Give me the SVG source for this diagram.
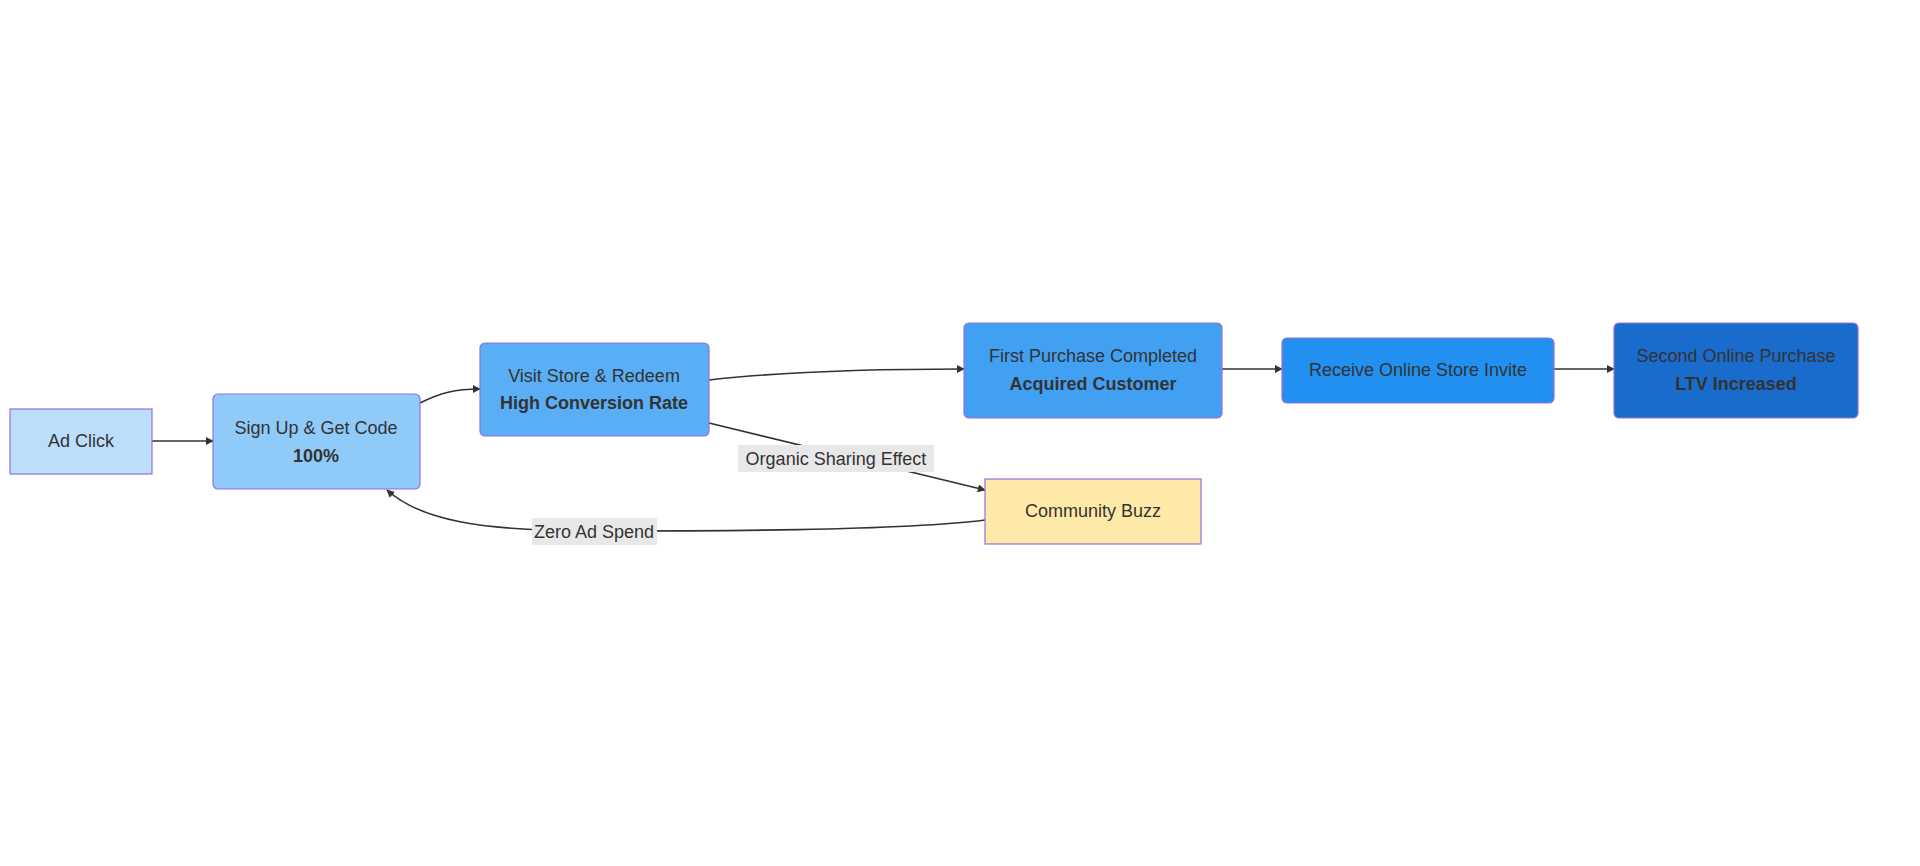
<svg xmlns="http://www.w3.org/2000/svg" width="1920" height="866" viewBox="0 0 1920 866">
<defs>
<style>
.n rect{stroke:#9370DB;stroke-width:1.2}
text{font-family:"Liberation Sans",Arial,sans-serif;font-size:18px;fill:#333;text-anchor:middle}
.b{font-weight:bold}
.e{fill:none;stroke:#333;stroke-width:1.6;marker-end:url(#ah)}
.lb{fill:#e8e8e8}
</style>
<marker id="ah" viewBox="0 0 10 10" refX="9" refY="5" markerWidth="8" markerHeight="8" orient="auto-start-reverse" markerUnits="userSpaceOnUse"><path d="M0,0L10,5L0,10z" fill="#333"/></marker>
</defs>
<rect width="1920" height="866" fill="#fff"/>
<g id="edges">
<path class="e" d="M152,441L213,441"/>
<path class="e" d="M420,403C440,393 455,389 480,389"/>
<path class="e" d="M709,380C780,372 860,369 964,369"/>
<path class="e" d="M1222,369L1282,369"/>
<path class="e" d="M1554,369L1614,369"/>
<path class="e" d="M709,423L985,490"/>
<path class="e" d="M985,520C900,531 700,531 594,531C480,531 420,520 387,490"/>
<rect class="lb" x="738" y="445" width="196" height="27"/>
<text x="836" y="465">Organic Sharing Effect</text>
<rect class="lb" x="532" y="518" width="125" height="27"/>
<text x="594" y="538">Zero Ad Spend</text>
</g>
<g id="adclick" class="n"><rect x="10" y="409" width="142" height="65" fill="#bbdefb"/><text x="81" y="447">Ad Click</text></g>
<g id="signup" class="n"><rect x="213" y="394" width="207" height="95" rx="5" fill="#90caf9"/><text x="316" y="434">Sign Up &amp; Get Code</text><text class="b" x="316" y="462">100%</text></g>
<g id="visit" class="n"><rect x="480" y="343" width="229" height="93" rx="5" fill="#5aaef5"/><text x="594" y="382">Visit Store &amp; Redeem</text><text class="b" x="594" y="409">High Conversion Rate</text></g>
<g id="first" class="n"><rect x="964" y="323" width="258" height="95" rx="5" fill="#42a0f3"/><text x="1093" y="362">First Purchase Completed</text><text class="b" x="1093" y="390">Acquired Customer</text></g>
<g id="receive" class="n"><rect x="1282" y="338" width="272" height="65" rx="5" fill="#2190f0"/><text x="1418" y="376">Receive Online Store Invite</text></g>
<g id="second" class="n"><rect x="1614" y="323" width="244" height="95" rx="5" fill="#1a6ccc"/><text x="1736" y="362">Second Online Purchase</text><text class="b" x="1736" y="390">LTV Increased</text></g>
<g id="buzz" class="n"><rect x="985" y="479" width="216" height="65" fill="#ffe9a8"/><text x="1093" y="517">Community Buzz</text></g>
</svg>
